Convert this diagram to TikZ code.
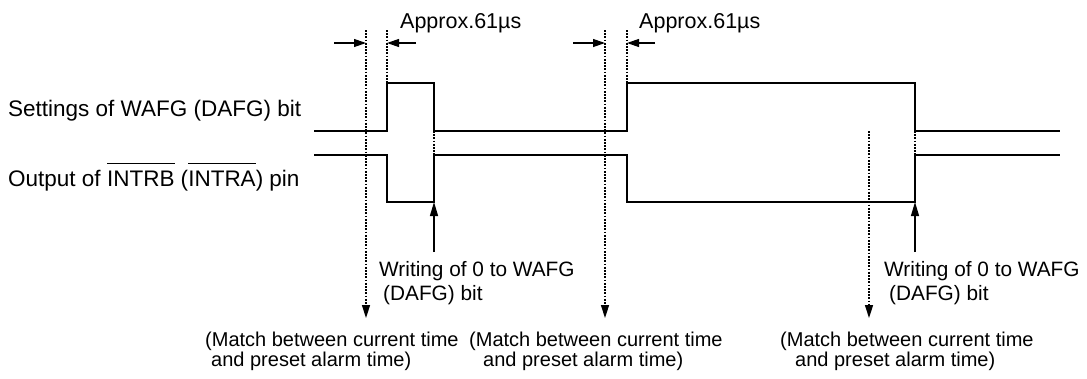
\documentclass[tikz,border=0pt]{standalone}
\usepackage{fontspec}
\setmainfont{Liberation Sans}
\usetikzlibrary{arrows.meta}
\newcommand\myov[1]{\setbox0\hbox{#1}\rlap{\raisebox{22pt}{\rule{\wd0}{1.2pt}}}\box0\relax}
\begin{document}
\begin{tikzpicture}[x=1pt,y=-1pt,
  sig/.style={line width=1.3pt},
  dotl/.style={line width=1.5pt, dash pattern=on 1.8pt off 1.4pt},
  dimarr/.style={line width=1.2pt, -{Triangle[length=12pt,width=8pt]}},
  uparr/.style={line width=1.3pt, -{Triangle[length=14pt,width=8pt]}},
  dnarr/.style={dotl, -{Triangle[length=13pt,width=8pt]}},
  lbl/.style={inner sep=0pt, anchor=base west, font=\fontsize{20}{20}\selectfont},
  wlbl/.style={inner sep=0pt, anchor=base west, font=\fontsize{20.8}{20.8}\selectfont},
  biglbl/.style={inner sep=0pt, anchor=base west, font=\fontsize{22.5}{22.5}\selectfont}]
\useasboundingbox (0,0) rectangle (1087,378);

% signal coordinates
\coordinate (w0) at (314,131); \coordinate (w1) at (387,131); \coordinate (w2) at (387,83);
\coordinate (w3) at (434,83); \coordinate (w4) at (434,131); \coordinate (w5) at (627,131);
\coordinate (w6) at (627,83); \coordinate (w7) at (915,83); \coordinate (w8) at (915,131);
\coordinate (w9) at (1060,131);
\coordinate (i0) at (314,155); \coordinate (i1) at (387,155); \coordinate (i2) at (387,202);
\coordinate (i3) at (434,202); \coordinate (i4) at (434,155); \coordinate (i5) at (627,155);
\coordinate (i6) at (627,202); \coordinate (i7) at (915,202); \coordinate (i8) at (915,155);
\coordinate (i9) at (1060,155);

\draw[sig] (w0) -- (w1) -- (w2) -- (w3) -- (w4) -- (w5) -- (w6) -- (w7) -- (w8) -- (w9);
\draw[sig] (i0) -- (i1) -- (i2) -- (i3) -- (i4) -- (i5) -- (i6) -- (i7) -- (i8) -- (i9);

% dotted markers
\coordinate (m1t) at (366,30);  \coordinate (m1b) at (366,318);
\coordinate (m2t) at (605,30);  \coordinate (m2b) at (605,318);
\coordinate (m3t) at (869,131); \coordinate (m3b) at (869,318);
\coordinate (r1t) at (387,30);  \coordinate (r2t) at (627,30);
\draw[dnarr] (m1t) -- (m1b);
\draw[dnarr] (m2t) -- (m2b);
\draw[dnarr] (m3t) -- (m3b);
\draw[dotl] (r1t) -- (w2);
\draw[dotl] (r2t) -- (w6);
\draw[dotl] (w4) -- (i4);
\draw[dotl] (w8) -- (i8);

% dimension arrows
\coordinate (d1a) at (334,43); \coordinate (d1b) at (366,43);
\coordinate (d1c) at (416,43); \coordinate (d1d) at (387,43);
\coordinate (d2a) at (573,43); \coordinate (d2b) at (605,43);
\coordinate (d2c) at (655,43); \coordinate (d2d) at (627,43);
\draw[dimarr] (d1a) -- (d1b);
\draw[dimarr] (d1c) -- (d1d);
\draw[dimarr] (d2a) -- (d2b);
\draw[dimarr] (d2c) -- (d2d);
\node[lbl, font=\fontsize{21.5}{21.5}\selectfont] (ap1) at (400,28) {Approx.61µs};
\node[lbl, font=\fontsize{21.5}{21.5}\selectfont] (ap2) at (639,28) {Approx.61µs};

% write arrows
\coordinate (u1) at (434,252); \coordinate (u2) at (915,252);
\draw[uparr] (u1) -- (i3);
\draw[uparr] (u2) -- (i7);

% labels
\node[biglbl] (lw) at (8,116) {Settings of WAFG (DAFG) bit};
\node[biglbl] (li) at (8,186) {Output of \myov{INTRB} (\myov{INTRA}) pin};

\node[wlbl] (wr1a) at (379,276) {Writing of 0 to WAFG};
\node[wlbl] (wr1b) at (383,300) {(DAFG) bit};
\node[wlbl] (wr2a) at (884,276) {Writing of 0 to WAFG};
\node[wlbl] (wr2b) at (889,300) {(DAFG) bit};

\node[lbl] (ma1) at (205,346) {(Match between current time};
\node[lbl] (mb1) at (211,366) {and preset alarm time)};
\node[lbl] (ma2) at (469,346) {(Match between current time};
\node[lbl] (mb2) at (483,366) {and preset alarm time)};
\node[lbl] (ma3) at (780,346) {(Match between current time};
\node[lbl] (mb3) at (795,366) {and preset alarm time)};
\end{tikzpicture}
\end{document}
